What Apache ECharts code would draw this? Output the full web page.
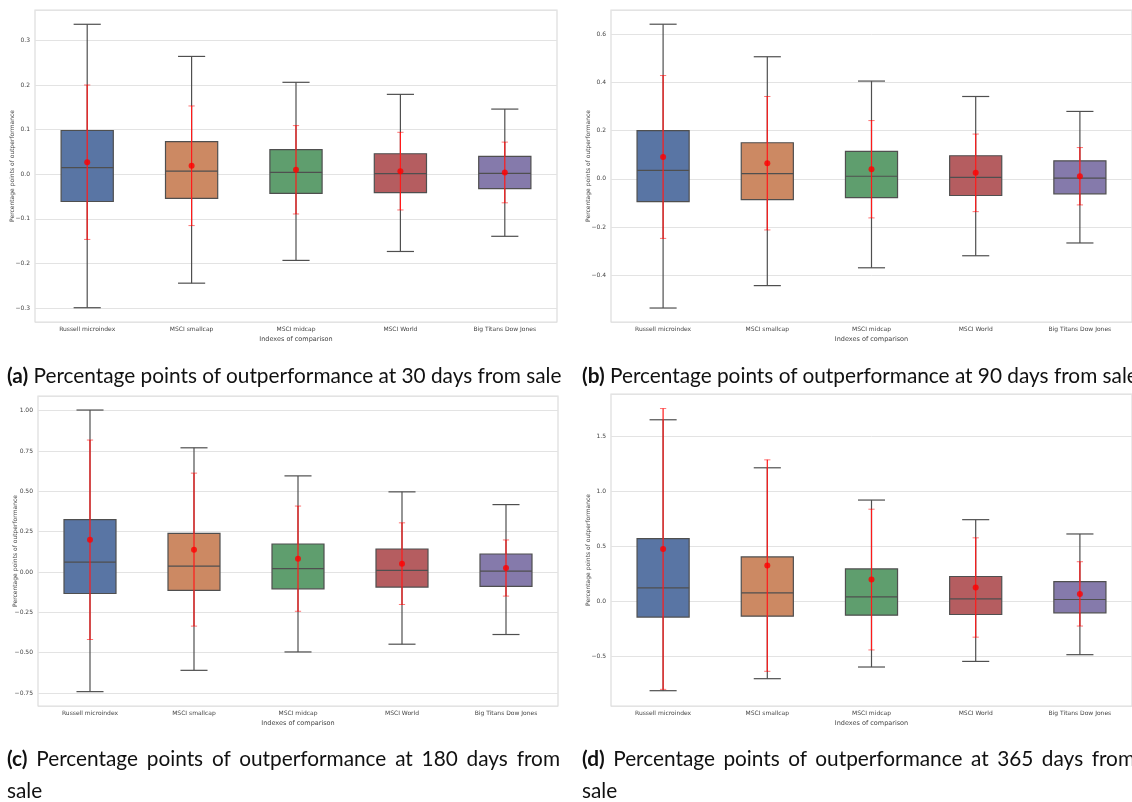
<!DOCTYPE html>
<html>
<head>
<meta charset="utf-8">
<script src="https://cdn.jsdelivr.net/npm/echarts@6/dist/echarts.min.js"></script>
<style>
  html, body { margin: 0; padding: 0; background: #fff; }
  #page { position: relative; width: 1132px; height: 802px; overflow: hidden; }
  #chart { position: absolute; left: 0; top: 0; width: 1132px; height: 802px; }
  .cap { position: absolute; font-family: Lato, sans-serif; font-size: 20.8px; color: #111; white-space: nowrap; }
  .cap b { font-weight: 700; }
  .just { text-align: justify; text-align-last: justify; white-space: normal; width: 553px; }
</style>
</head>
<body>
<div id="page">
  <div id="chart"></div>
  <div class="cap" style="left:7px; top:362px;"><b>(a)</b> Percentage points of outperformance at 30 days from sale</div>
  <div class="cap" style="left:582px; top:362px;"><b>(b)</b> Percentage points of outperformance at 90 days from sale</div>
  <div class="cap just" style="left:7px; top:745px;"><b>(c)</b> Percentage points of outperformance at 180 days from</div>
  <div class="cap" style="left:7px; top:777px;">sale</div>
  <div class="cap just" style="left:582px; top:745px;"><b>(d)</b> Percentage points of outperformance at 365 days from</div>
  <div class="cap" style="left:582px; top:777px;">sale</div>
</div>
<script>
  // indexes compared
  const categories = ['Russell microindex', 'MSCI smallcap', 'MSCI midcap', 'MSCI World', 'Big Titans Dow Jones'];

  // 30 days
  const whiskLow30 = [-0.299, -0.244, -0.193, -0.173, -0.139];
  const q1_30 = [-0.061, -0.054, -0.043, -0.041, -0.032];
  const median30 = [0.015, 0.007, 0.004, 0.0015, 0.002];
  const q3_30 = [0.098, 0.073, 0.055, 0.046, 0.040];
  const whiskHigh30 = [0.336, 0.264, 0.206, 0.179, 0.146];
  const mean30 = [0.027, 0.019, 0.010, 0.007, 0.004];
  const sd30 = [0.173, 0.134, 0.099, 0.087, 0.068];

  // 90 days
  const whiskLow90 = [-0.536, -0.443, -0.369, -0.319, -0.266];
  const q1_90 = [-0.094, -0.086, -0.078, -0.069, -0.062];
  const median90 = [0.035, 0.022, 0.011, 0.006, 0.003];
  const q3_90 = [0.200, 0.150, 0.114, 0.096, 0.075];
  const whiskHigh90 = [0.642, 0.507, 0.406, 0.342, 0.280];
  const mean90 = [0.091, 0.065, 0.040, 0.025, 0.011];
  const sd90 = [0.338, 0.277, 0.202, 0.161, 0.119];

  // 180 days
  const whiskLow180 = [-0.741, -0.609, -0.495, -0.447, -0.387];
  const q1_180 = [-0.133, -0.114, -0.104, -0.093, -0.089];
  const median180 = [0.062, 0.037, 0.021, 0.010, 0.006];
  const q3_180 = [0.325, 0.240, 0.174, 0.143, 0.112];
  const whiskHigh180 = [1.004, 0.770, 0.596, 0.497, 0.418];
  const mean180 = [0.200, 0.139, 0.083, 0.052, 0.025];
  const sd180 = [0.618, 0.474, 0.326, 0.253, 0.174];

  // 365 days
  const whiskLow365 = [-0.813, -0.704, -0.598, -0.547, -0.486];
  const q1_365 = [-0.145, -0.136, -0.127, -0.121, -0.106];
  const median365 = [0.121, 0.076, 0.039, 0.021, 0.015];
  const q3_365 = [0.568, 0.402, 0.293, 0.224, 0.178];
  const whiskHigh365 = [1.647, 1.211, 0.918, 0.740, 0.610];
  const mean365 = [0.474, 0.323, 0.196, 0.124, 0.066];
  const sd365 = [1.275, 0.960, 0.639, 0.451, 0.292];

  const yMin = [-0.331, -0.594, -0.83, -0.952];
  const yMax = [0.368, 0.701, 1.091, 1.881];
  const yStep = [0.1, 0.2, 0.25, 0.5];
  const yDecimals = [1, 1, 2, 1];

  const panels = [
    { lo: whiskLow30, q1: q1_30, med: median30, q3: q3_30, hi: whiskHigh30, mean: mean30, sd: sd30 },
    { lo: whiskLow90, q1: q1_90, med: median90, q3: q3_90, hi: whiskHigh90, mean: mean90, sd: sd90 },
    { lo: whiskLow180, q1: q1_180, med: median180, q3: q3_180, hi: whiskHigh180, mean: mean180, sd: sd180 },
    { lo: whiskLow365, q1: q1_365, med: median365, q3: q3_365, hi: whiskHigh365, mean: mean365, sd: sd365 }
  ];

  const grids = [
    { left: 35, top: 10, width: 522, height: 312 },
    { left: 611, top: 10, width: 521, height: 312 },
    { left: 38, top: 396, width: 520, height: 310 },
    { left: 611, top: 394, width: 521, height: 312 }
  ];

  const boxColors = ['#5975a4', '#cc8963', '#5f9e6e', '#b55d60', '#857aab'];
  const edge = '#4f4f4f';
  const font = 'DejaVu Sans';

  function renderBox(params, api) {
    const x = api.value(0);
    const lo = api.coord([x, api.value(1)]);
    const q1 = api.coord([x, api.value(2)]);
    const med = api.coord([x, api.value(3)]);
    const q3 = api.coord([x, api.value(4)]);
    const hi = api.coord([x, api.value(5)]);
    const band = api.size([1, 0])[0];
    const bw = band * 0.5;
    const cw = band * 0.26;
    const cx = lo[0];
    const st = { stroke: edge, lineWidth: 1.2, fill: null };
    return {
      type: 'group',
      children: [
        { type: 'line', shape: { x1: cx, y1: q3[1], x2: cx, y2: hi[1] }, style: st },
        { type: 'line', shape: { x1: cx, y1: q1[1], x2: cx, y2: lo[1] }, style: st },
        { type: 'line', shape: { x1: cx - cw / 2, y1: hi[1], x2: cx + cw / 2, y2: hi[1] }, style: st },
        { type: 'line', shape: { x1: cx - cw / 2, y1: lo[1], x2: cx + cw / 2, y2: lo[1] }, style: st },
        { type: 'rect', shape: { x: cx - bw / 2, y: q3[1], width: bw, height: q1[1] - q3[1] },
          style: { fill: boxColors[api.value(0)], stroke: edge, lineWidth: 1.2 } },
        { type: 'line', shape: { x1: cx - bw / 2, y1: med[1], x2: cx + bw / 2, y2: med[1] }, style: st }
      ]
    };
  }

  function renderSd(params, api) {
    const x = api.value(0);
    const lo = api.coord([x, api.value(1)]);
    const hi = api.coord([x, api.value(2)]);
    const band = api.size([1, 0])[0];
    const cw = band * 0.06;
    const cx = lo[0];
    const line = { stroke: '#ff1a1a', lineWidth: 1.2, fill: null };
    const cap = { stroke: 'rgba(255,0,0,0.55)', lineWidth: 1, fill: null };
    return {
      type: 'group',
      children: [
        { type: 'line', shape: { x1: cx, y1: lo[1], x2: cx, y2: hi[1] }, style: line },
        { type: 'line', shape: { x1: cx - cw / 2, y1: hi[1], x2: cx + cw / 2, y2: hi[1] }, style: cap },
        { type: 'line', shape: { x1: cx - cw / 2, y1: lo[1], x2: cx + cw / 2, y2: lo[1] }, style: cap }
      ]
    };
  }

  const option = {
    backgroundColor: '#ffffff',
    animation: false,
    grid: grids.map(g => Object.assign({
      show: true, borderColor: '#dddddd', borderWidth: 1.2, backgroundColor: '#ffffff',
      containLabel: false, outerBoundsMode: 'none'
    }, g)),
    xAxis: grids.map((g, k) => ({
      type: 'category',
      gridIndex: k,
      data: categories,
      axisLine: { show: false },
      axisTick: { show: false },
      axisLabel: { fontSize: 6, color: '#444', fontFamily: font, margin: 4 },
      name: 'Indexes of comparison',
      nameLocation: 'middle',
      nameGap: 14,
      nameTextStyle: { fontSize: 6.5, color: '#444', fontFamily: font }
    })),
    yAxis: grids.map((g, k) => ({
      type: 'value',
      gridIndex: k,
      min: yMin[k],
      max: yMax[k],
      minInterval: yStep[k],
      maxInterval: yStep[k],
      splitNumber: 7,
      axisLine: { show: false },
      axisTick: { show: false },
      splitLine: { show: true, lineStyle: { color: '#e3e3e3', width: 1 } },
      axisLabel: {
        fontSize: 6, color: '#444', fontFamily: font, margin: 5,
        showMinLabel: false, showMaxLabel: false,
        formatter: v => v.toFixed(yDecimals[k]).replace('-', '\u2212')
      },
      name: 'Percentage points of outperformance',
      nameLocation: 'middle',
      nameGap: 20,
      nameMoveOverlap: false,
      nameTextStyle: { fontSize: 6, color: '#444', fontFamily: font }
    })),
    series: []
  };

  panels.forEach((p, k) => {
    option.series.push({
      type: 'custom',
      name: 'box' + k,
      xAxisIndex: k,
      yAxisIndex: k,
      renderItem: renderBox,
      encode: { x: 0, y: [1, 2, 3, 4, 5] },
      data: categories.map((c, i) => [i, p.lo[i], p.q1[i], p.med[i], p.q3[i], p.hi[i]]),
      z: 2
    });
    option.series.push({
      type: 'custom',
      name: 'sd' + k,
      xAxisIndex: k,
      yAxisIndex: k,
      renderItem: renderSd,
      encode: { x: 0, y: [1, 2] },
      data: categories.map((c, i) => [i, p.mean[i] - p.sd[i], p.mean[i] + p.sd[i]]),
      z: 3
    });
    option.series.push({
      type: 'scatter',
      name: 'mean' + k,
      xAxisIndex: k,
      yAxisIndex: k,
      symbolSize: 6,
      itemStyle: { color: '#ff0000' },
      data: categories.map((c, i) => [i, p.mean[i]]),
      z: 4
    });
  });

  const chart = echarts.init(document.getElementById('chart'));
  chart.setOption(option);
</script>
</body>
</html>
